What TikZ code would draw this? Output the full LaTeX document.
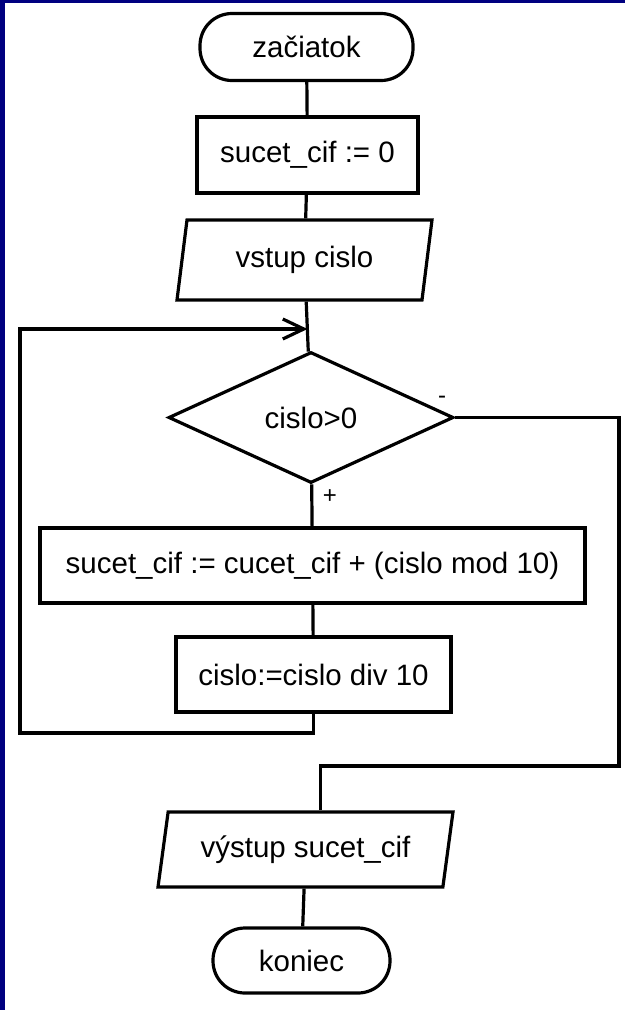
\documentclass[tikz,border=0pt]{standalone}
\usepackage{fontspec}
\setmainfont{Liberation Sans}
\usepackage{tikz}
\usetikzlibrary{shapes.geometric}
\usetikzlibrary{arrows.meta}
\definecolor{framenavy}{RGB}{0,0,128}
\tikzstyle{flow}=[draw=black,line width=3.2pt,fill=white,inner sep=0pt,font=\fontsize{29.5}{31}\selectfont]
\tikzstyle{terminal}=[flow,rectangle,rounded corners=32pt]
\tikzstyle{command}=[flow,rectangle]
\tikzstyle{io}=[flow,trapezium,trapezium left angle=70,trapezium right angle=110,trapezium stretches body]
\tikzstyle{decision}=[flow,diamond]
\tikzstyle{line}=[draw,line width=3.2pt]
\tikzstyle{branchlabel}=[font=\fontsize{24}{26}\selectfont]

\begin{document}
\begin{tikzpicture}[x=1pt,y=-1pt]
    \useasboundingbox (0,0) rectangle (625,1010);
    \fill[white] (0,0) rectangle (625,1010);
    \fill[framenavy] (0,0) rectangle (5,1010);
    \fill[framenavy] (0,0) rectangle (625,3);

    % blocks of the flowchart
    \node[terminal,minimum width=213pt,minimum height=67pt] (start) at (306.5,47) {začiatok};
    \node[command,minimum width=221pt,minimum height=76pt] (sum0) at (307.5,155) {sucet\_cif := 0};
    \node[io,minimum width=255pt,minimum height=80pt] (in) at (304.5,260) {vstup cislo};
    \node[decision,minimum width=285pt,minimum height=131pt] (cond) at (311,417.5) {cislo>0};
    \node[command,minimum width=545pt,minimum height=75pt] (add) at (312.5,565.5) {sucet\_cif := cucet\_cif + (cislo mod 10)};
    \node[command,minimum width=275pt,minimum height=75pt] (div) at (313.5,674.5) {cislo:=cislo div 10};
    \node[io,minimum width=295pt,minimum height=75pt] (out) at (305.5,849.5) {výstup sucet\_cif};
    \node[terminal,minimum width=177pt,minimum height=65pt] (stop) at (301.5,960.5) {koniec};

    \node[branchlabel] (lblminus) at (442,400) {-};
    \node[branchlabel] (lblplus) at (330,497) {+};

    % Connect blocks with straight lines
    \foreach \source/ \dest in {start/sum0, sum0/in, in/cond, cond/add, add/div, out/stop}
            \path[line] (\source) -- (\dest);

    % loop back and exit
    \coordinate (join) at (307.5,329);
    \coordinate (loopbl) at (20,733);
    \coordinate (rbot) at (619,766);
    \path[line,-{Straight Barb[length=21pt,width=20pt,line width=3.2pt]}] (div.south) |- (loopbl) |- (join);
    \path[line] (cond.east) -| (rbot) -| ([xshift=15pt]out.north);

\end{tikzpicture}
\end{document}
